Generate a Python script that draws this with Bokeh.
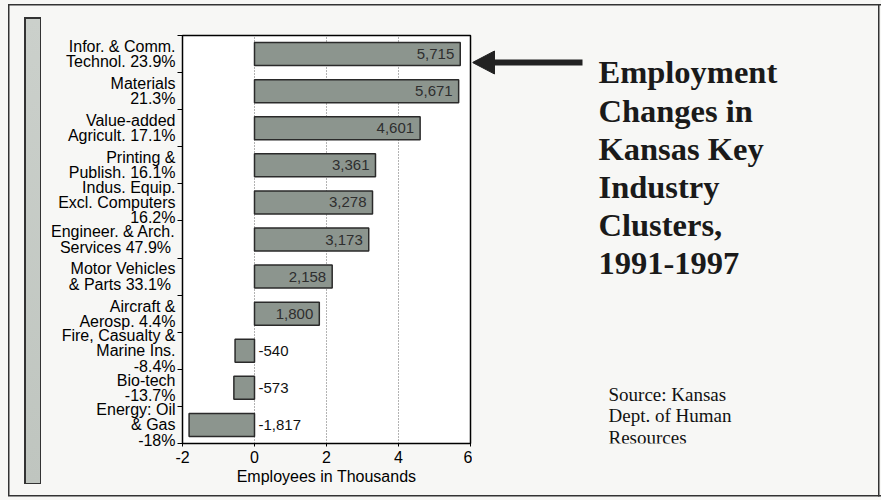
from bokeh.plotting import figure
from bokeh.layouts import row
from bokeh.models import ColumnDataSource, FixedTicker, Range1d, Spacer
from bokeh.core.properties import value
from bokeh.embed import file_html
from bokeh.resources import INLINE

# ---------------- data ----------------
categories = [
    "Infor. & Comm.\nTechnol. 23.9%",
    "Materials\n21.3%",
    "Value-added\nAgricult. 17.1%",
    "Printing &\nPublish. 16.1%",
    "Indus. Equip.\nExcl. Computers\n16.2%",
    "Engineer. & Arch.\nServices  47.9%",
    "Motor Vehicles\n& Parts  33.1%",
    "Aircraft &\nAerosp. 4.4%",
    "Fire, Casualty &\nMarine Ins.\n-8.4%",
    "Bio-tech\n-13.7%",
    "Energy: Oil\n& Gas\n-18%",
]
changes = [5.715, 5.671, 4.601, 3.361, 3.278, 3.173, 2.158, 1.800, -0.540, -0.573, -1.817]
x_ticks = [-2, 0, 2, 4, 6]
x_tick_labels = ["-2", "0", "2", "4", "6"]
title_lines = ["Employment", "Changes in", "Kansas Key", "Industry", "Clusters,", "1991-1997"]
source_lines = ["Source: Kansas", "Dept. of Human", "Resources"]
axis_title = "Employees in Thousands"

# ---------------- layout constants ----------------
H = 500
PAPER = "#f7f7f5"
LINE = "linear-gradient(#333333, #333333)"
LEFT_W = 41
FRAME_L, FRAME_R, FRAME_T, FRAME_B = 182, 470, 35, 443
MAIN_W = FRAME_R + 2 - LEFT_W
RIGHT_X = LEFT_W + MAIN_W
RIGHT_W = 881 - RIGHT_X
n = len(categories)

ys = [n - 0.5 - i for i in range(n)]
labels = [f"{round(v * 1000):,}" for v in changes]

pos = ColumnDataSource(dict(
    y=[y for y, v in zip(ys, changes) if v >= 0],
    v=[v for v in changes if v >= 0],
    t=[t for t, v in zip(labels, changes) if v >= 0],
))
neg = ColumnDataSource(dict(
    y=[y for y, v in zip(ys, changes) if v < 0],
    z=[0 for v in changes if v < 0],
    t=[t for t, v in zip(labels, changes) if v < 0],
))
allsrc = ColumnDataSource(dict(y=ys, v=changes))

# ---------------- main chart ----------------
p = figure(width=MAIN_W, height=H, x_range=Range1d(-2, 6), y_range=Range1d(0, n),
           output_backend="svg", toolbar_location=None,
           min_border_left=FRAME_L - LEFT_W, min_border_right=2,
           min_border_top=FRAME_T, min_border_bottom=H - FRAME_B)
p.background_fill_color = "white"
p.border_fill_alpha = 0
p.outline_line_color = "black"
p.outline_line_width = 1.5
p.styles = {
    "background-color": PAPER,
    "background-image": f"{LINE}, {LINE}",
    "background-size": "100% 1.5px, 100% 1.5px",
    "background-position": "0px 4px, 0px 495px",
    "background-repeat": "no-repeat",
}

p.xgrid.ticker = FixedTicker(ticks=x_ticks)
p.xgrid.grid_line_color = "#666666"
p.xgrid.grid_line_dash = "1 2"
p.ygrid.visible = False

p.hbar(y="y", right="v", left=0, height=0.62, source=allsrc,
       fill_color="#8c958e", line_color="#2a2a2a", line_width=1.5)

p.text(x="v", y="y", text="t", source=pos, x_offset=-6,
       text_align="right", text_baseline="middle",
       text_font=value("Liberation Sans"), text_font_size="15px", text_color="#2e2e2e")
p.text(x="z", y="y", text="t", source=neg, x_offset=4,
       text_align="left", text_baseline="middle",
       text_font=value("Liberation Sans"), text_font_size="15px", text_color="#111111")

p.xaxis.ticker = FixedTicker(ticks=x_ticks)
p.xaxis.major_label_overrides = dict(zip(x_ticks, x_tick_labels))
p.xaxis.axis_label = axis_title
p.xaxis.axis_label_text_font = "Liberation Sans"
p.xaxis.axis_label_text_font_style = "normal"
p.xaxis.axis_label_text_font_size = "16px"
p.xaxis.axis_label_text_color = "black"
p.xaxis.axis_label_standoff = 2
p.xaxis.major_label_text_font = "Liberation Sans"
p.xaxis.major_label_text_font_size = "16px"
p.xaxis.major_label_text_color = "black"
p.xaxis.major_label_standoff = 4
p.xaxis.major_tick_out = 3
p.xaxis.major_tick_in = 0
p.xaxis.minor_tick_line_color = None
p.xaxis.axis_line_color = "black"

p.yaxis.ticker = FixedTicker(ticks=ys, minor_ticks=list(range(n + 1)))
p.yaxis.major_label_overrides = {y: c for y, c in zip(ys, categories)}
p.yaxis.major_tick_line_color = None
p.yaxis.major_tick_out = 0
p.yaxis.major_tick_in = 0
p.yaxis.minor_tick_out = 5
p.yaxis.minor_tick_in = 0
p.yaxis.minor_tick_line_color = "black"
p.yaxis.axis_line_color = "black"
p.yaxis.major_label_text_font = "Liberation Sans"
p.yaxis.major_label_text_font_size = "16px"
p.yaxis.major_label_text_line_height = 0.9
p.yaxis.major_label_text_color = "black"
p.yaxis.major_label_standoff = 2

# ---------------- left decorative strip + frame lines (pure CSS) ----------------
left = Spacer(width=LEFT_W, height=H, styles={
    "background-color": PAPER,
    "background-image": ", ".join([
        "linear-gradient(#cbd0cb, #bfc5bf)",  # strip fill (on top)
        LINE,                                 # strip border
        LINE, LINE, LINE,                     # outer frame: left, top, bottom
    ]),
    "background-size": "14px 464px, 17px 467px, 1.5px 492px, 100% 1.5px, 100% 1.5px",
    "background-position": "25.5px 18.5px, 24px 17px, 8px 4px, 8px 4px, 8px 495px",
    "background-repeat": "no-repeat",
})

# ---------------- right side: arrow, title, source ----------------
r = figure(width=RIGHT_W, height=H, x_range=Range1d(0, RIGHT_W),
           y_range=Range1d(FRAME_B, FRAME_T),
           output_backend="svg", toolbar_location=None,
           min_border_left=0, min_border_right=0,
           min_border_top=FRAME_T, min_border_bottom=H - FRAME_B)
r.axis.visible = False
r.grid.visible = False
r.outline_line_color = None
r.background_fill_alpha = 0
r.border_fill_alpha = 0
r.styles = {
    "background-color": PAPER,
    "background-image": f"{LINE}, {LINE}, {LINE}",
    "background-size": "100% 1.5px, 100% 1.5px, 1.5px 492.5px",
    "background-position": "0px 4px, 0px 495px, 406px 4px",
    "background-repeat": "no-repeat",
}

r.segment(x0=[18], y0=[62], x1=[110], y1=[62], line_width=6, line_color="#222222")
r.patch(x=[0, 22, 22], y=[62, 50.5, 73.5], fill_color="#222222", line_color="#222222")

r.text(x=[126] * len(title_lines), y=[71.7 + 38.3 * i for i in range(len(title_lines))],
       text=title_lines, text_font=value("Liberation Serif"), text_font_style="bold",
       text_font_size="32.5px", text_baseline="middle", text_color="#1a1a1a")
r.text(x=[136] * len(source_lines), y=[393.5 + 21.7 * i for i in range(len(source_lines))],
       text=source_lines, text_font=value("Liberation Serif"), text_font_size="19px",
       text_baseline="middle", text_color="#111111")

layout = row(left, p, r, spacing=0)

open("out.html", "w").write(file_html(layout, INLINE))
